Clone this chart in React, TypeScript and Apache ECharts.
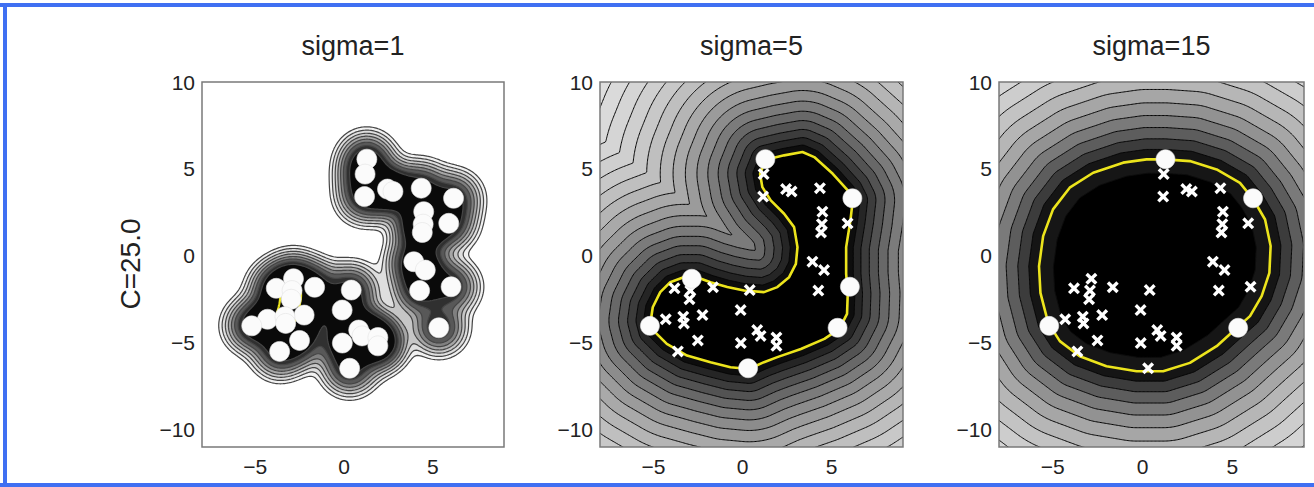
import React, { useEffect, useRef } from 'react';
import * as echarts from 'echarts';

// ---------------- data ----------------
const pointX = [1.28, 1.18, 1.15, 2.44, 2.75, 4.34, 6.16, 4.48, 4.45, 4.40, 5.89, 3.92, 4.57, 4.25, 6.02, 5.33, 0.40, -1.66, -3.82, -2.85, -2.93, -2.98, -2.25, -4.31, -3.33, -3.29, -0.11, 0.82, 1.01, 1.90, 1.90, -0.10, -2.51, -3.63, 0.31, -5.20];
const pointY = [5.56, 4.70, 3.41, 3.84, 3.70, 3.89, 3.31, 2.54, 1.82, 1.34, 1.87, -0.34, -0.82, -2.00, -1.78, -4.14, -1.97, -1.81, -1.87, -1.32, -2.00, -2.50, -3.41, -3.65, -3.50, -3.89, -3.12, -4.27, -4.61, -4.70, -5.18, -5.02, -4.87, -5.50, -6.47, -4.03];

const supportVectors2 = [0, 6, 14, 15, 34, 35, 19];
const supportVectors3 = [0, 6, 15, 35];

const boundary2X = [1.30, 2.33, 3.36, 4.02, 5.06, 5.90, 6.18, 6.05, 5.81, 5.81, 5.90, 5.86, 5.43, 4.59, 3.27, 1.95, 1.20, 0.36, -0.68, -1.80, -3.12, -4.25, -5.00, -5.15, -5.04, -4.62, -4.06, -3.31, -2.56, -1.80, -0.86, 0.08, 1.20, 1.95, 2.61, 2.99, 3.08, 2.89, 2.33, 1.58, 1.11, 0.98];
const boundary2Y = [5.53, 5.78, 5.97, 5.68, 4.72, 3.76, 3.19, 2.03, 0.50, -1.04, -2.19, -3.34, -4.20, -4.78, -5.36, -5.83, -6.12, -6.51, -6.41, -6.12, -5.74, -5.07, -4.30, -3.72, -2.96, -2.09, -1.52, -1.23, -1.23, -1.52, -1.80, -2.00, -2.09, -1.80, -1.23, -0.46, 0.50, 1.65, 2.42, 3.19, 3.95, 4.72];

const boundary3X = [1.25, 2.64, 4.13, 5.43, 6.18, 6.83, 7.14, 7.07, 6.64, 5.99, 5.25, 4.13, 2.64, 1.15, -0.33, -2.01, -3.50, -4.61, -5.26, -5.69, -5.77, -5.54, -4.99, -4.06, -2.75, -1.08, 0.22];
const boundary3Y = [5.55, 5.45, 4.97, 4.20, 3.24, 2.09, 0.56, -0.98, -2.32, -3.47, -4.15, -5.20, -6.16, -6.64, -6.64, -6.35, -5.78, -4.91, -3.86, -2.13, -0.60, 1.13, 2.67, 3.92, 4.78, 5.36, 5.55];

// contour levels: kernel levels for panel 1, distances from the boundary for panels 2 and 3
const levels1 = [0.07, 0.12, 0.19, 0.28, 0.4, 0.55, 0.75, 1.0];
const levels2 = [0.40, 0.83, 1.30, 1.81, 2.35, 2.93, 3.54, 4.19, 4.88, 5.60, 6.36, 7.15, 7.98, 8.85, 9.75, 10.7];
const levels3 = [0.57, 1.18, 1.83, 2.52, 3.25, 4.02, 4.83, 5.68, 6.57, 7.50, 8.47];

const xTicks = [-5, 0, 5];
const yTicks = [-10, -5, 0, 5, 10];
const titles = ['sigma=1', 'sigma=5', 'sigma=15'];
const yName = 'C=25.0';

// ---------------- layout / style ----------------
const FONT = '"Liberation Sans", Arial, Helvetica, sans-serif';
const GRIDS = [
  { left: 202, top: 82, width: 302, height: 365 },
  { left: 600, top: 82, width: 303, height: 365 },
  { left: 999, top: 82, width: 305, height: 365 },
];
const XMIN = -8, XMAX = 9, YMIN = -11, YMAX = 10;
const YELLOW = '#ece41c';
const FILLS1 = ['#f1f1f1', '#dedede', '#c6c6c6', '#a6a6a6', '#808080', '#585858', '#303030', '#0a0a0a'];
const KERNEL1 = 0.8;
const YELLOW_LEVEL1 = 3.3;

// field grid (slightly larger than the axes, clipped)
const GX0 = -8.2, GX1 = 9.2, GY0 = -11.2, GY1 = 10.2;
const NX = 232, NY = 285;
const SX = (GX1 - GX0) / NX, SY = (GY1 - GY0) / NY;

const CASES: number[][][][] = [
  [],
  [[[1.0, 1.5], [0.5, 1.0]]],
  [[[1.5, 1.0], [1.0, 1.5]]],
  [[[1.5, 1.0], [0.5, 1.0]]],
  [[[1.0, 0.5], [1.5, 1.0]]],
  [[[1.0, 1.5], [0.5, 1.0]], [[1.0, 0.5], [1.5, 1.0]]],
  [[[1.0, 0.5], [1.0, 1.5]]],
  [[[1.0, 0.5], [0.5, 1.0]]],
  [[[0.5, 1.0], [1.0, 0.5]]],
  [[[1.0, 1.5], [1.0, 0.5]]],
  [[[0.5, 1.0], [1.0, 0.5]], [[1.5, 1.0], [1.0, 1.5]]],
  [[[1.5, 1.0], [1.0, 0.5]]],
  [[[0.5, 1.0], [1.5, 1.0]]],
  [[[1.0, 1.5], [1.5, 1.0]]],
  [[[0.5, 1.0], [1.0, 1.5]]],
  [],
];

function contourRings(values: Float64Array, dx: number, dy: number, value: number): number[][][] {
  const rings: number[][][] = [];
  const byStart = new Map<number, any>();
  const byEnd = new Map<number, any>();
  let x = -1, y = -1, t0 = 0, t1 = 0, t2 = 0, t3 = 0;
  const above = (v: number) => (v >= value ? 1 : 0);
  const index = (p: number[]) => p[0] * 2 + p[1] * (dx + 1) * 4;
  const stitch = (line: number[][]) => {
    const start = [line[0][0] + x, line[0][1] + y];
    const end = [line[1][0] + x, line[1][1] + y];
    const si = index(start), ei = index(end);
    let f: any, g: any;
    if ((f = byEnd.get(si))) {
      if ((g = byStart.get(ei))) {
        byEnd.delete(f.end); byStart.delete(g.start);
        if (f === g) { f.ring.push(end); rings.push(f.ring); }
        else { const n = { start: f.start, end: g.end, ring: f.ring.concat(g.ring) }; byStart.set(n.start, n); byEnd.set(n.end, n); }
      } else {
        byEnd.delete(f.end); f.ring.push(end); f.end = ei; byEnd.set(ei, f);
      }
    } else if ((f = byStart.get(ei))) {
      if ((g = byEnd.get(si))) {
        byStart.delete(f.start); byEnd.delete(g.end);
        if (f === g) { f.ring.push(end); rings.push(f.ring); }
        else { const n = { start: g.start, end: f.end, ring: g.ring.concat(f.ring) }; byStart.set(n.start, n); byEnd.set(n.end, n); }
      } else {
        byStart.delete(f.start); f.ring.unshift(start); f.start = si; byStart.set(si, f);
      }
    } else {
      const n = { start: si, end: ei, ring: [start, end] }; byStart.set(si, n); byEnd.set(ei, n);
    }
  };
  t1 = above(values[0]);
  CASES[t1 << 1].forEach(stitch);
  while (++x < dx - 1) {
    t0 = t1; t1 = above(values[x + 1]);
    CASES[t0 | (t1 << 1)].forEach(stitch);
  }
  CASES[t1 << 0].forEach(stitch);
  while (++y < dy - 1) {
    x = -1;
    t1 = above(values[y * dx + dx]);
    t2 = above(values[y * dx]);
    CASES[(t1 << 1) | (t2 << 2)].forEach(stitch);
    while (++x < dx - 1) {
      t0 = t1; t1 = above(values[y * dx + dx + x + 1]);
      t3 = t2; t2 = above(values[y * dx + x + 1]);
      CASES[t0 | (t1 << 1) | (t2 << 2) | (t3 << 3)].forEach(stitch);
    }
    CASES[t1 | (t2 << 3)].forEach(stitch);
  }
  x = -1;
  t2 = above(values[y * dx]);
  CASES[t2 << 2].forEach(stitch);
  while (++x < dx - 1) {
    t3 = t2; t2 = above(values[y * dx + x + 1]);
    CASES[(t2 << 2) | (t3 << 3)].forEach(stitch);
  }
  CASES[t2 << 3].forEach(stitch);

  for (const ring of rings) {
    for (const p of ring) {
      const px = p[0], py = p[1], xt = px | 0, yt = py | 0;
      if (px > 0 && px < dx && xt === px) {
        const v0 = values[yt * dx + xt - 1], v1 = values[yt * dx + xt];
        p[0] = px + (value - v0) / (v1 - v0) - 0.5;
      }
      if (py > 0 && py < dy && yt === py) {
        const v0 = values[(yt - 1) * dx + xt], v1 = values[yt * dx + xt];
        p[1] = py + (value - v0) / (v1 - v0) - 0.5;
      }
    }
  }
  return rings.map((r) => r.map((p) => [GX0 + p[0] * SX, GY0 + p[1] * SY]));
}

function buildField(fn: (x: number, y: number) => number): Float64Array {
  const v = new Float64Array(NX * NY);
  for (let j = 0; j < NY; j++) {
    const Y = GY0 + (j + 0.5) * SY;
    for (let i = 0; i < NX; i++) v[j * NX + i] = fn(GX0 + (i + 0.5) * SX, Y);
  }
  return v;
}

function signedDist(x: number, y: number, bx: number[], by: number[]): number {
  let minD = Infinity;
  let inside = false;
  const n = bx.length;
  for (let i = 0, j = n - 1; i < n; j = i++) {
    const x1 = bx[j], y1 = by[j], x2 = bx[i], y2 = by[i];
    const ex = x2 - x1, ey = y2 - y1;
    const t = Math.max(0, Math.min(1, ((x - x1) * ex + (y - y1) * ey) / (ex * ex + ey * ey)));
    const qx = x1 + t * ex - x, qy = y1 + t * ey - y;
    const d = qx * qx + qy * qy;
    if (d < minD) minD = d;
    if ((y1 > y) !== (y2 > y) && x < ((x2 - x1) * (y - y1)) / (y2 - y1) + x1) inside = !inside;
  }
  return inside ? -Math.sqrt(minD) : Math.sqrt(minD);
}

function grayHex(v: number) {
  const c = Math.max(0, Math.min(255, Math.round(v)));
  const h = c.toString(16).padStart(2, '0');
  return '#' + h + h + h;
}

type Item = { rings: number[][][]; fill: string; stroke: string; lw: number };

function panel1Items(): Item[] {
  const two = 2 * KERNEL1 * KERNEL1;
  const f = buildField((x, y) => {
    let s = 0;
    for (let k = 0; k < pointX.length; k++) {
      const dx = x - pointX[k], dy = y - pointY[k];
      s += Math.exp(-(dx * dx + dy * dy) / two);
    }
    return s;
  });
  const items: Item[] = levels1.map((t, k) => ({ rings: contourRings(f, NX, NY, t), fill: FILLS1[k], stroke: '#454545', lw: 1.2 }));
  items.push({ rings: contourRings(f, NX, NY, YELLOW_LEVEL1), fill: 'none', stroke: YELLOW, lw: 2.2 });
  return items;
}

function distItems(bx: number[], by: number[], levels: number[], scale: number, top: number, inner: boolean): Item[] {
  const g = buildField((x, y) => -signedDist(x, y, bx, by));
  const gray = (d: number) => grayHex(top * (1 - Math.exp(-d / scale)));
  const items: Item[] = [];
  const last = levels[levels.length - 1];
  items.push({ rings: contourRings(g, NX, NY, -1e9), fill: gray(last + 0.6), stroke: 'none', lw: 0 });
  for (let k = levels.length - 1; k >= 0; k--) {
    const lo = k > 0 ? levels[k - 1] : 0;
    items.push({ rings: contourRings(g, NX, NY, -levels[k]), fill: gray((lo + levels[k]) / 2), stroke: '#050505', lw: 1 });
  }
  if (inner) {
    items.push({ rings: contourRings(g, NX, NY, 0), fill: '#161616', stroke: 'none', lw: 0 });
    items.push({ rings: contourRings(g, NX, NY, 0.8), fill: '#000000', stroke: '#0c0c0c', lw: 1 });
  } else {
    items.push({ rings: contourRings(g, NX, NY, 0), fill: '#000000', stroke: 'none', lw: 0 });
  }
  return items;
}

let shapeRegistered = false;
function registerContourShape() {
  if (shapeRegistered) return;
  shapeRegistered = true;
  const Shape = (echarts as any).graphic.extendShape({
    type: 'contourPoly',
    shape: { rings: [] },
    buildPath(ctx: any, shape: any) {
      for (const ring of shape.rings) {
        if (ring.length < 2) continue;
        ctx.moveTo(ring[0][0], ring[0][1]);
        for (let i = 1; i < ring.length; i++) ctx.lineTo(ring[i][0], ring[i][1]);
        ctx.closePath();
      }
    },
  });
  (echarts as any).graphic.registerShape('contourPoly', Shape);
}

const crossPath = 'path://M2,0 L5,3 L8,0 L10,2 L7,5 L10,8 L8,10 L5,7 L2,10 L0,8 L3,5 L0,2 Z';
const fmt = (v: number) => (v < 0 ? '\u2212' + Math.abs(v) : String(v));

export default function App() {
  const ref = useRef<HTMLDivElement>(null);
  useEffect(() => {
    if (!ref.current) return;
    registerContourShape();
    const chart = echarts.init(ref.current, null, { renderer: 'svg' });

    const panelItems = [
      panel1Items(),
      distItems(boundary2X, boundary2Y, levels2, 3.6, 236, false),
      distItems(boundary3X, boundary3Y, levels3, 3.0, 236, true),
    ];

    const grid: any[] = [];
    const xAxis: any[] = [];
    const yAxis: any[] = [];
    const series: any[] = [];

    GRIDS.forEach((g, i) => {
      grid.push({ ...g, show: true, borderColor: '#7a7a7a', borderWidth: 1.5, backgroundColor: 'rgba(0,0,0,0)', z: 10, containLabel: false, outerBoundsMode: 'none' });
      xAxis.push({
        gridIndex: i, type: 'value', min: XMIN, max: XMAX,
        axisLine: { show: false }, axisTick: { show: false }, splitLine: { show: false },
        axisLabel: { customValues: xTicks, formatter: fmt, fontSize: 21, color: '#222', margin: 9, fontFamily: FONT },
      });
      yAxis.push({
        gridIndex: i, type: 'value', min: YMIN, max: YMAX,
        axisLine: { show: false }, axisTick: { show: false }, splitLine: { show: false },
        axisLabel: { customValues: yTicks, formatter: fmt, fontSize: 21, color: '#222', margin: 7, fontFamily: FONT },
      });
      const items = panelItems[i];
      series.push({
        type: 'custom', xAxisIndex: i, yAxisIndex: i, clip: true, silent: true, z: 1,
        data: items.map(() => [0, 0]),
        renderItem: (params: any, api: any) => {
          const it = items[params.dataIndex];
          const rings = it.rings.map((r) => r.map((p) => api.coord(p)));
          return {
            type: 'contourPoly',
            shape: { rings },
            style: { fill: it.fill, stroke: it.stroke, lineWidth: it.lw },
          };
        },
      });
      const circleStyle = { color: '#fbfbfb', borderColor: '#e2e2e2', borderWidth: 0.6, opacity: 1 };
      if (i > 0) {
        const bx = i === 1 ? boundary2X : boundary3X;
        const by = i === 1 ? boundary2Y : boundary3Y;
        const pts = bx.map((x, k) => [x, by[k]]);
        pts.push([bx[0], by[0]]);
        series.push({
          type: 'line', xAxisIndex: i, yAxisIndex: i, data: pts, symbol: 'none', silent: true, z: 3,
          lineStyle: { color: YELLOW, width: 2.6 },
        });
        const svs = i === 1 ? supportVectors2 : supportVectors3;
        const crosses = pointX.map((x, k) => [x, pointY[k], k]).filter((p) => svs.indexOf(p[2]) < 0).map((p) => [p[0], p[1]]);
        series.push({
          type: 'scatter', xAxisIndex: i, yAxisIndex: i, data: crosses, symbol: crossPath, symbolSize: 12, silent: true, z: 4,
          itemStyle: { color: '#ffffff', opacity: 1 },
        });
        series.push({
          type: 'scatter', xAxisIndex: i, yAxisIndex: i, data: svs.map((k) => [pointX[k], pointY[k]]), symbol: 'circle', symbolSize: 19, silent: true, z: 5,
          itemStyle: circleStyle,
        });
      } else {
        series.push({
          type: 'scatter', xAxisIndex: i, yAxisIndex: i, data: pointX.map((x, k) => [x, pointY[k]]), symbol: 'circle', symbolSize: 20, silent: true, z: 5,
          itemStyle: circleStyle,
        });
      }
    });

    const graphic: any[] = [
      { type: 'rect', shape: { x: 0, y: 3, width: 1314, height: 4 }, style: { fill: '#3f6ff2' }, silent: true },
      { type: 'rect', shape: { x: 3, y: 3, width: 4, height: 484 }, style: { fill: '#3f6ff2' }, silent: true },
      { type: 'rect', shape: { x: 0, y: 483, width: 1314, height: 4 }, style: { fill: '#3f6ff2' }, silent: true },
      {
        type: 'text', x: 130, y: 264, rotation: Math.PI / 2, silent: true,
        style: { text: yName, fontSize: 28, fontFamily: FONT, fill: '#222', align: 'center', verticalAlign: 'middle', textAlign: 'center', textVerticalAlign: 'middle' },
      },
    ];
    GRIDS.forEach((g, i) => {
      graphic.push({
        type: 'text', x: g.left + g.width / 2, y: 46, silent: true,
        style: { text: titles[i], fontSize: 27, fontFamily: FONT, fill: '#222', align: 'center', verticalAlign: 'middle', textAlign: 'center', textVerticalAlign: 'middle' },
      });
    });

    chart.setOption({
      animation: false,
      backgroundColor: '#ffffff',
      grid, xAxis, yAxis, series, graphic,
    });
    return () => chart.dispose();
  }, []);
  return <div ref={ref} style={{ position: 'fixed', left: 0, top: 0, width: 1314, height: 487 }} />;
}
